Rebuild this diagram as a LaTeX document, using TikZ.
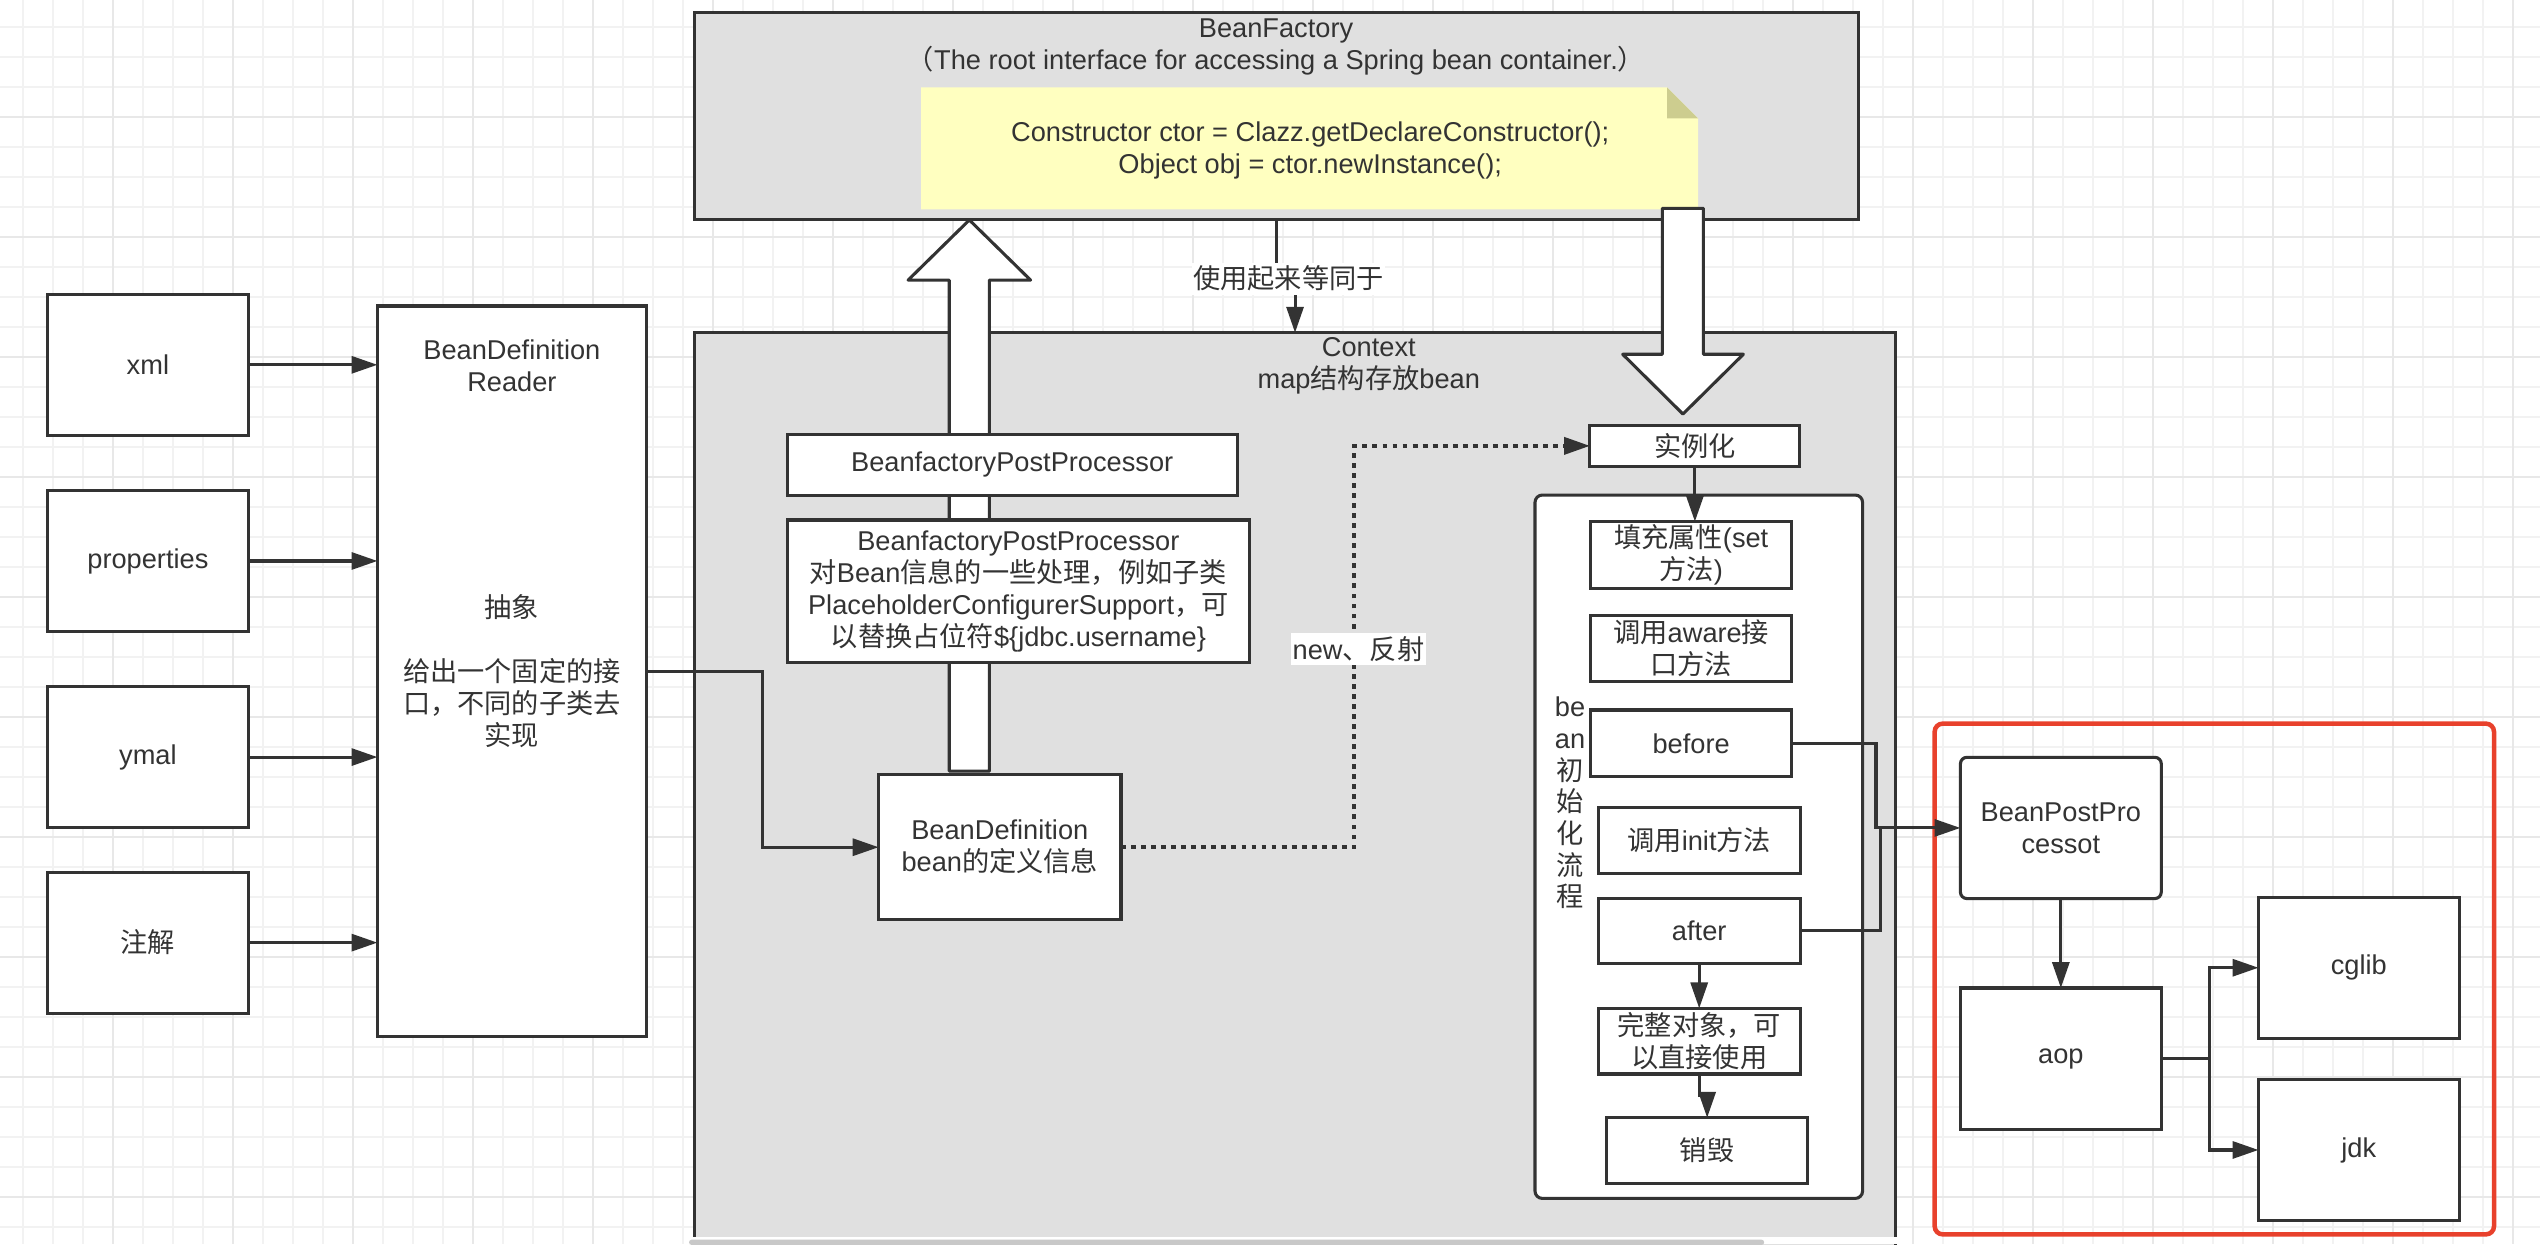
\documentclass[tikz,border=0pt]{standalone}
\usepackage{fontspec}
\setmainfont{Liberation Sans}
\newfontfamily\cjkfont{Noto Sans CJK SC}
\newcommand{\zh}[1]{{\cjkfont #1}}
\usetikzlibrary{arrows.meta}
\definecolor{ink}{HTML}{333333}
\definecolor{panel}{HTML}{E0E0E0}
\definecolor{notefill}{HTML}{FFFFC0}
\definecolor{notefold}{HTML}{CDCD8F}
\definecolor{redline}{HTML}{E8412C}
\definecolor{gridmin}{HTML}{F2F2F2}
\definecolor{gridmaj}{HTML}{E8E8E8}
\definecolor{scrollbar}{HTML}{C8C8C8}
\begin{document}
\begin{tikzpicture}[x=1pt,y=-1pt,
  every node/.style={text=ink, font=\fontsize{16.8}{19.8}\selectfont, align=center, inner sep=0pt, outer sep=0pt},
  box/.style={draw=ink, line width=1.9pt, fill=white},
  graybox/.style={draw=ink, line width=1.9pt, fill=panel},
  conn/.style={draw=ink, line width=1.9pt, -{Triangle[length=16pt,width=10.5pt]}},
  plainconn/.style={draw=ink, line width=1.9pt},
  dotconn/.style={draw=ink, line width=2.3pt, dash pattern=on 3pt off 3.2pt, -{Triangle[length=16pt,width=10.5pt]}},
  hollow/.style={draw=ink, line width=1.9pt, fill=white, line join=round},
  lbl/.style={fill=white, inner xsep=1pt, inner ysep=2pt},
  gmin/.style={draw=gridmin, line width=1.1pt},
  gmaj/.style={draw=gridmaj, line width=1.3pt}
]
\useasboundingbox (0,0) rectangle (1568,768);
\clip (0,0) rectangle (1568,768);
\fill[white] (0,0) rectangle (1568,768);
% grid
\foreach \k in {0,...,84} { \draw[gmin] ({14.0+\k*18.52},0) -- ({14.0+\k*18.52},768); }
\foreach \k in {0,...,41} { \draw[gmin] (0,{16.5+\k*18.52}) -- (1568,{16.5+\k*18.52}); }
\foreach \k in {3,7,...,83} { \draw[gmaj] ({14.0+\k*18.52},0) -- ({14.0+\k*18.52},768); }
\foreach \k in {3,7,...,39} { \draw[gmaj] (0,{16.5+\k*18.52}) -- (1568,{16.5+\k*18.52}); }

% BeanFactory
\node[graybox, minimum width=718.5pt, minimum height=127.6pt] (bf) at (787.75,71.6) {};
\node (bftitle) at (787.75,29) {BeanFactory\\\zh{（}The root interface for accessing a Spring bean container.\zh{）}};
\fill[notefill] (568.6,53.9) -- (1029.1,53.9) -- (1048.2,73) -- (1048.2,129.2) -- (568.6,129.2) -- cycle;
\fill[notefold] (1029.1,53.9) -- (1029.1,73) -- (1048.2,73) -- cycle;
\node (notetext) at (808.8,93.1) {Constructor ctor = Clazz.getDeclareConstructor();\\Object obj = ctor.newInstance();};

% Context
\node[graybox, minimum width=741.9pt, minimum height=594.6pt] (ctx) at (799.45,502.7) {};
\node (ctxtitle) at (845,226) {Context\\map\zh{结构存放}bean};

% hollow arrows
\draw[hollow] (586,476) -- (586,172.9) -- (560.6,172.9) -- (598.4,135.8) -- (636.2,172.9) -- (610.8,172.9) -- (610.8,476) -- cycle;
\draw[hollow] (1026.2,128.6) -- (1026.2,218.7) -- (1001.7,218.7) -- (1038.9,255.6) -- (1076.2,218.7) -- (1051.5,218.7) -- (1051.5,128.6) -- cycle;

% left column
\node[box, minimum width=123.8pt, minimum height=87pt] (xml) at (91.3,225.2) {xml};
\node[box, minimum width=123.8pt, minimum height=87pt] (props) at (91.3,346.3) {properties};
\node[box, minimum width=123.8pt, minimum height=87pt] (ymal) at (91.3,467.35) {ymal};
\node[box, minimum width=123.8pt, minimum height=87pt] (anno) at (91.3,581.9) {\zh{注解}};
\node[box, minimum width=166pt, minimum height=450.7pt] (reader) at (316,414.25) {\zh{抽象}\\\mbox{}\\\zh{给出一个固定的接}\\\zh{口，不同的子类去}\\\zh{实现}};
\node (readertitle) at (316,226) {BeanDefinition\\Reader};

% context content
\node[box, minimum width=277.7pt, minimum height=37.6pt] (bfpp1) at (624.85,286.8) {BeanfactoryPostProcessor};
\node[box, minimum width=285.3pt, minimum height=88pt] (bfpp2) at (628.65,365) {BeanfactoryPostProcessor\\\zh{对}Bean\zh{信息的一些处理，例如子类}\\PlaceholderConfigurerSupport\zh{，可}\\\zh{以替换占位符}\$\{jdbc.username\}};
\node[box, minimum width=149.6pt, minimum height=89.6pt] (bd) at (617.2,523) {BeanDefinition\\bean\zh{的定义信息}};
\node[box, minimum width=129.6pt, minimum height=24.9pt] (inst) at (1046.3,275.25) {\zh{实例化}};
\node[box, rounded corners=4.5pt, minimum width=202.2pt, minimum height=434.2pt] (cont) at (1048.7,522.7) {};
\node[box, minimum width=124pt, minimum height=41.2pt] (fillp) at (1044,342.6) {\zh{填充属性}(set\\\zh{方法})};
\node[box, minimum width=124pt, minimum height=41.1pt] (aware) at (1044,400.25) {\zh{调用}aware\zh{接}\\\zh{口方法}};
\node[box, minimum width=124pt, minimum height=41.2pt] (before) at (1044,458.9) {before};
\node[box, minimum width=124.5pt, minimum height=40.5pt] (init) at (1048.95,518.85) {\zh{调用}init\zh{方法}};
\node[box, minimum width=124.5pt, minimum height=40.1pt] (after) at (1048.95,574.65) {after};
\node[box, minimum width=124.5pt, minimum height=40.5pt] (full) at (1048.95,642.75) {\zh{完整对象，可}\\\zh{以直接使用}};
\node[box, minimum width=124.1pt, minimum height=40.5pt] (destroy) at (1053.85,710.25) {\zh{销毁}};
\node[font=\fontsize{16.8}{19.55}\selectfont] (flow) at (969.2,495.7) {be\\an\\\zh{初}\\\zh{始}\\\zh{化}\\\zh{流}\\\zh{程}};

% red group
\node[draw=redline, line width=2.8pt, rounded corners=5pt, minimum width=345.3pt, minimum height=315.3pt] (grp) at (1366.95,604.35) {};
\node[box, rounded corners=4pt, minimum width=124pt, minimum height=87.2pt] (bpp) at (1272.2,511.1) {BeanPostPro\\cessot};
\node[box, minimum width=124pt, minimum height=87.4pt] (aop) at (1272.2,653.6) {aop};
\node[box, minimum width=123.9pt, minimum height=87.2pt] (cglib) at (1456.15,597.4) {cglib};
\node[box, minimum width=123.9pt, minimum height=87.2pt] (jdk) at (1456.15,709.9) {jdk};

% connectors
\draw[conn] (xml.east) -- (xml.east -| reader.west);
\draw[conn] (props.east) -- (props.east -| reader.west);
\draw[conn] (ymal.east) -- (ymal.east -| reader.west);
\draw[conn] (anno.east) -- (anno.east -| reader.west);
\coordinate (rj) at (470.9,414.25);
\draw[conn] (reader.east) -- (rj) |- (bd.west);
\coordinate (dv) at (836,275.25);
\draw[dotconn] (bd.east) -| (dv) -- (inst.west);
\node[lbl] (newlbl) at (838.6,400.8) {new\zh{、反射}};
\coordinate (ua) at (787.75,172);
\coordinate (ub) at (799.45,172);
\draw[conn] (bf.south) -- (ua) -- (ub) -- (ctx.north);
\node[lbl] (uselbl) at (795.4,172) {\zh{使用起来等同于}};
\draw[conn] (inst.south) -- (inst.south |- fillp.north);
\draw[conn] (after.south) -- (full.north);
\coordinate (fj) at (1048.95,676);
\draw[conn] (full.south) -- (fj) -| (destroy.north);
\coordinate (bj) at (1158.1,511.1);
\coordinate (aj) at (1160.6,511.1);
\draw[plainconn] (after.east) -| (aj);
\draw[conn] (before.east) -| (bj) -- (bpp.west);
\draw[conn] (bpp.south) -- (aop.north);
\coordinate (sj) at (1363.9,653.6);
\draw[conn] (aop.east) -- (sj) |- (cglib.west);
\draw[conn] (sj) |- (jdk.west);

% bottom scrollbar
\fill[white] (427,763.8) rectangle (1172,768);
\fill[scrollbar, rounded corners=1.5pt] (425.4,765.3) rectangle (1089,768.5);
\end{tikzpicture}
\end{document}
